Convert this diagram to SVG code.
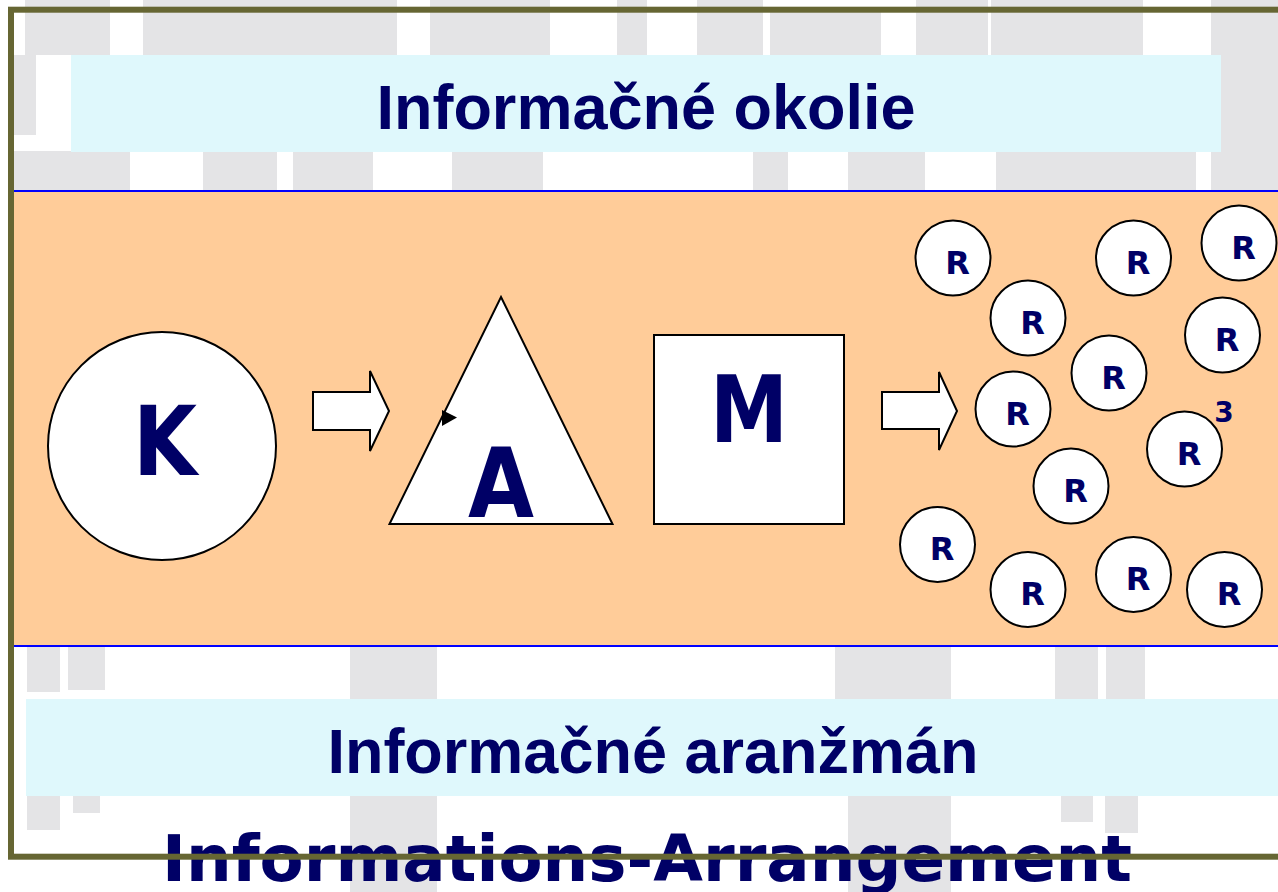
<svg xmlns="http://www.w3.org/2000/svg" width="1278" height="892" viewBox="0 0 1278 892">
<style>
.bg{fill:#E4E4E6}
.cyan{fill:#DFF8FC}
.hdr{font-family:"Liberation Sans",Arial,sans-serif;font-weight:bold;font-size:63px;fill:#000066;text-anchor:middle}
.big{font-family:"DejaVu Sans",Verdana,sans-serif;font-weight:bold;fill:#000066;text-anchor:middle}
.shape{fill:#FFFFFF;stroke:#000000;stroke-width:2}
.r circle{fill:#FFFFFF;stroke:#000000;stroke-width:2}
.r text{font-family:"DejaVu Sans",Verdana,sans-serif;font-weight:bold;font-size:32px;fill:#000066;text-anchor:middle}
</style>
<rect width="1278" height="892" fill="#FFFFFF"/>
<g id="background">
<rect class="bg" x="25" y="0" width="85" height="55"/>
<rect class="bg" x="14" y="55" width="22" height="80"/>
<rect class="bg" x="143" y="0" width="144" height="55"/>
<rect class="bg" x="287" y="0" width="110" height="55"/>
<rect class="bg" x="430" y="0" width="120" height="55"/>
<rect class="bg" x="617" y="0" width="30" height="55"/>
<rect class="bg" x="697" y="0" width="66" height="55"/>
<rect class="bg" x="770" y="10" width="111" height="45"/>
<rect class="bg" x="916" y="0" width="72" height="55"/>
<rect class="bg" x="991" y="0" width="152" height="55"/>
<rect class="bg" x="1211" y="0" width="67" height="191"/>
<rect class="bg" x="14" y="151" width="116" height="40"/>
<rect class="bg" x="203" y="151" width="74" height="40"/>
<rect class="bg" x="293" y="151" width="80" height="40"/>
<rect class="bg" x="452" y="151" width="91" height="40"/>
<rect class="bg" x="753" y="151" width="35" height="40"/>
<rect class="bg" x="848" y="151" width="77" height="40"/>
<rect class="bg" x="996" y="151" width="200" height="40"/>
<rect class="bg" x="27" y="647" width="33" height="45"/>
<rect class="bg" x="68" y="647" width="37" height="43"/>
<rect class="bg" x="27" y="796" width="33" height="34"/>
<rect class="bg" x="73" y="796" width="27" height="17"/>
<rect class="bg" x="350" y="647" width="87" height="245"/>
<rect class="bg" x="835" y="647" width="15" height="52"/>
<rect class="bg" x="848" y="647" width="103" height="245"/>
<rect class="bg" x="1055" y="647" width="43" height="52"/>
<rect class="bg" x="1106" y="647" width="39" height="52"/>
<rect class="bg" x="1061" y="796" width="32" height="26"/>
<rect class="bg" x="1105" y="796" width="33" height="37"/>
</g>
<g id="top-label">
<rect class="cyan" x="71" y="55" width="1150" height="97"/>
<text class="hdr" x="646" y="129">Informačné okolie</text>
</g>
<g id="band">
<rect x="14" y="191" width="1270" height="455" fill="#FFCC99"/>
<line x1="14" y1="191" x2="1278" y2="191" stroke="#0000FF" stroke-width="2"/>
<line x1="14" y1="646" x2="1278" y2="646" stroke="#0000FF" stroke-width="2"/>
</g>
<g id="bottom-label">
<rect class="cyan" x="26" y="699" width="1260" height="97"/>
<text class="hdr" x="653" y="773">Informačné aranžmán</text>
</g>
<text class="big" x="647" y="881" font-size="64" textLength="970" lengthAdjust="spacingAndGlyphs">Informations-Arrangement</text>
<g id="node-K">
<circle class="shape" cx="162" cy="446" r="114"/>
<text class="big" x="165" y="475" font-size="96" textLength="64" lengthAdjust="spacingAndGlyphs">K</text>
</g>
<g id="node-A">
<polygon class="shape" points="501,297 612.5,524 389.5,524"/>
<polygon points="442,410 457,417.5 442,426" fill="#000000"/>
<text class="big" x="501" y="517" font-size="96" textLength="66" lengthAdjust="spacingAndGlyphs">A</text>
</g>
<g id="node-M">
<rect class="shape" x="654" y="335" width="190" height="189"/>
<text class="big" x="749" y="442" font-size="92" textLength="78" lengthAdjust="spacingAndGlyphs">M</text>
</g>
<g id="connectors">
<polygon class="shape" points="313,392 370,392 370,371 389,411 370,451 370,430 313,430"/>
<polygon class="shape" points="882,392 939,392 939,372 957,411 939,450 939,429 882,429"/>
</g>
<g id="nodes-R" class="r">
<g id="r1"><circle cx="953" cy="258" r="37.5"/><text x="957.5" y="273.5">R</text></g>
<g id="r2"><circle cx="1133.5" cy="258" r="37.5"/><text x="1138" y="273.5">R</text></g>
<g id="r3"><circle cx="1239" cy="243" r="37.5"/><text x="1243.5" y="258.5">R</text></g>
<g id="r4"><circle cx="1028" cy="318" r="37.5"/><text x="1032.5" y="333.5">R</text></g>
<g id="r5"><circle cx="1222.5" cy="335" r="37.5"/><text x="1227" y="350.5">R</text></g>
<g id="r6"><circle cx="1109" cy="373" r="37.5"/><text x="1113.5" y="388.5">R</text></g>
<g id="r7"><circle cx="1013" cy="409" r="37.5"/><text x="1017.5" y="424.5">R</text></g>
<g id="r8"><circle cx="1184.5" cy="449" r="37.5"/><text x="1189" y="464.5">R</text></g>
<g id="r9"><circle cx="1071" cy="486" r="37.5"/><text x="1075.5" y="501.5">R</text></g>
<g id="r10"><circle cx="937.5" cy="544.5" r="37.5"/><text x="942" y="560">R</text></g>
<g id="r11"><circle cx="1028" cy="589.5" r="37.5"/><text x="1032.5" y="605">R</text></g>
<g id="r12"><circle cx="1133.5" cy="574.5" r="37.5"/><text x="1138" y="590">R</text></g>
<g id="r13"><circle cx="1224.5" cy="589.5" r="37.5"/><text x="1229" y="605">R</text></g>
</g>
<text class="big" x="1224" y="422" font-size="28">3</text>
<rect id="frame" x="11" y="9.7" width="1290" height="847" fill="none" stroke="#666633" stroke-width="6"/>
</svg>
